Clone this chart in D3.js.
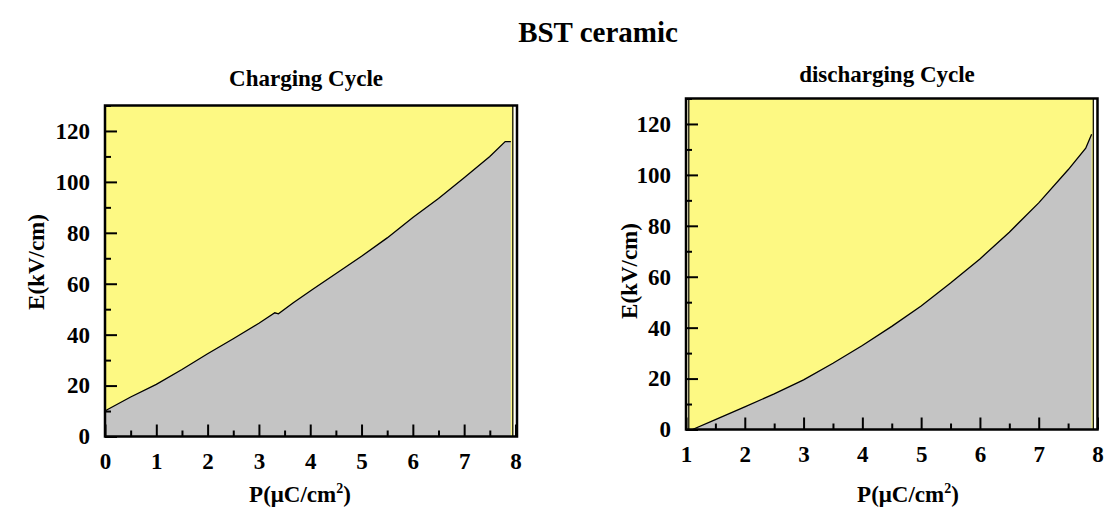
<!DOCTYPE html>
<html lang="en">
<head>
    <meta charset="UTF-8">
    <title>BST ceramic - charging / discharging</title>
    <script src="https://d3js.org/d3.v7.min.js"></script>
    <style>
        body { margin: 0; background: #fff; }
        text { font-family: "Liberation Serif", "Times New Roman", serif; font-weight: bold; fill: #000; }
        .tick line { stroke: #000; stroke-width: 2; }
        .curve { fill: none; stroke: #000; stroke-width: 1.3; }
    </style>
</head>
<body>
<svg width="1108" height="529"></svg>
<script>
    // values
    const chargeP = [0, 0.05, 0.5, 1, 1.5, 2, 2.5, 3, 3.31, 3.38, 3.67, 4.05, 4.54, 5, 5.5, 6, 6.5, 7, 7.5, 7.8, 7.91];
    const chargeE = [10, 10.6, 15.5, 20.5, 26.3, 32.5, 38.4, 44.5, 48.6, 48.2, 52.5, 57.8, 64.5, 70.8, 78, 86, 93.5, 101.6, 110, 115.8, 115.8];

    const dischargeP = [1.11, 1.5, 2, 2.5, 3, 3.5, 4, 4.5, 5, 5.5, 6, 6.5, 7, 7.5, 7.8, 7.9];
    const dischargeE = [0, 3.9, 8.9, 14, 19.5, 26, 33, 40.5, 48.5, 57.5, 67, 77.5, 89, 102, 110.5, 116];

    const chargeXTicks = [0, 1, 2, 3, 4, 5, 6, 7, 8];
    const dischargeXTicks = [1, 2, 3, 4, 5, 6, 7, 8];
    const yTicks = [0, 20, 40, 60, 80, 100, 120];

    const svg = d3.select("svg");

    svg.append("text")
        .attr("x", 598).attr("y", 42)
        .attr("text-anchor", "middle")
        .style("font-size", "29px")
        .text("BST ceramic");

    function drawPanel(cfg) {
        const x = d3.scaleLinear().domain(cfg.xDomain).range(cfg.xRange);
        const y = d3.scaleLinear().domain([0, 130]).range(cfg.yRange);
        const g = svg.append("g");
        const [x0, x1] = cfg.xRange;
        const [yb, yt] = cfg.yRange;

        // yellow background of the plot area
        g.append("rect")
            .attr("x", x0).attr("y", yt)
            .attr("width", x1 - x0).attr("height", yb - yt)
            .attr("fill", "#fdf983");

        const pts = cfg.P.map((p, i) => [p, cfg.E[i]]);

        // gray area under the curve
        g.append("path")
            .datum(pts)
            .attr("fill", "#c4c4c4")
            .attr("d", d3.area().x(d => x(d[0])).y0(y(0)).y1(d => y(d[1])));

        g.append("path")
            .datum(pts)
            .attr("class", "curve")
            .attr("d", d3.line().x(d => x(d[0])).y(d => y(d[1])));

        // double line on the right edge (and left edge on the second plot)
        g.append("rect").attr("x", x1 - 3.5).attr("y", yt).attr("width", 2.5).attr("height", yb - yt).attr("fill", "#fff");
        g.append("line").attr("x1", x1 - 4.2).attr("x2", x1 - 4.2).attr("y1", yt).attr("y2", yb)
            .attr("stroke", "#000").attr("stroke-width", 1.2);
        if (cfg.leftDouble) {
            g.append("line").attr("x1", x0 + 1.8).attr("x2", x0 + 1.8).attr("y1", yt).attr("y2", yb)
                .attr("stroke", "#fff").attr("stroke-width", 1);
            g.append("line").attr("x1", x0 + 2.8).attr("x2", x0 + 2.8).attr("y1", yt).attr("y2", yb)
                .attr("stroke", "#000").attr("stroke-width", 1.2);
        }

        // frame
        g.append("rect")
            .attr("x", x0).attr("y", yt)
            .attr("width", x1 - x0).attr("height", yb - yt)
            .attr("fill", "none").attr("stroke", "#000").attr("stroke-width", 2.5);

        // major + minor ticks, pointing inward
        const xMinor = cfg.xTicks.slice(0, -1).map(v => v + 0.5);
        const yMinor = yTicks.map(v => v + 10);

        g.append("g")
            .attr("transform", `translate(0,${yb})`)
            .call(d3.axisBottom(x).tickValues(cfg.xTicks).tickSize(-12).tickPadding(16).tickFormat(d3.format("d")))
            .call(a => a.select(".domain").remove());
        g.append("g")
            .attr("transform", `translate(0,${yb})`)
            .call(d3.axisBottom(x).tickValues(xMinor).tickSize(-6).tickFormat(""))
            .call(a => a.select(".domain").remove());
        g.append("g")
            .attr("transform", `translate(${x0},0)`)
            .call(d3.axisLeft(y).tickValues(yTicks).tickSize(-12).tickPadding(15).tickFormat(d3.format("d")))
            .call(a => a.select(".domain").remove());
        g.append("g")
            .attr("transform", `translate(${x0},0)`)
            .call(d3.axisLeft(y).tickValues(yMinor).tickSize(-6).tickFormat(""))
            .call(a => a.select(".domain").remove());

        g.selectAll(".tick text").style("font-size", "23px").attr("font-family", null);

        // titles
        g.append("text")
            .attr("x", cfg.titleX).attr("y", cfg.titleY)
            .attr("text-anchor", "middle")
            .style("font-size", "23px")
            .text(cfg.title);

        const xl = g.append("text")
            .attr("x", cfg.xLabelX).attr("y", 502)
            .attr("text-anchor", "middle")
            .style("font-size", "23px");
        xl.append("tspan").text("P(\u03bcC/cm");
        xl.append("tspan").attr("dy", -9).style("font-size", "14px").text("2");
        xl.append("tspan").attr("dy", 9).text(")");

        g.append("text")
            .attr("transform", `translate(${cfg.yLabelX},${cfg.yLabelY}) rotate(-90)`)
            .attr("text-anchor", "middle")
            .style("font-size", "23px")
            .text("E(kV/cm)");
    }

    drawPanel({
        P: chargeP, E: chargeE,
        xDomain: [0, 8.03], xRange: [105, 517], yRange: [436.5, 105.5],
        xTicks: chargeXTicks, leftDouble: false,
        title: "Charging Cycle", titleX: 306, titleY: 86,
        xLabelX: 300, yLabelX: 44, yLabelY: 262
    });

    drawPanel({
        P: dischargeP, E: dischargeE,
        xDomain: [1, 8], xRange: [686, 1097.5], yRange: [429.5, 98.5],
        xTicks: dischargeXTicks, leftDouble: true,
        title: "discharging Cycle", titleX: 887, titleY: 82,
        xLabelX: 908, yLabelX: 637, yLabelY: 271
    });
</script>
</body>
</html>
